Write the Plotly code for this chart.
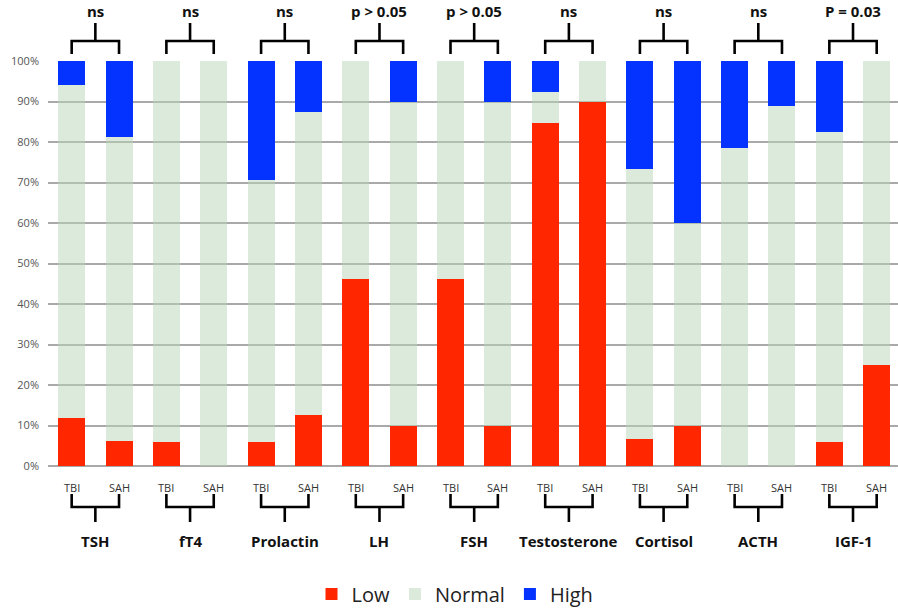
import plotly.graph_objects as go

hormones = ["TSH", "fT4", "Prolactin", "LH", "FSH", "Testosterone", "Cortisol", "ACTH", "IGF-1"]
groups = ["TBI", "SAH"]
p_labels = ["ns", "ns", "ns", "p > 0.05", "p > 0.05", "ns", "ns", "ns", "P = 0.03"]

# percentages, order: TSH TBI, TSH SAH, fT4 TBI, fT4 SAH, ...
low = [11.8, 6.25, 5.9, 0, 5.9, 12.5, 46.2, 10, 46.2, 10, 84.6, 90, 6.7, 10, 0, 0, 5.9, 25]
high = [5.9, 18.75, 0, 0, 29.4, 12.5, 0, 10, 0, 10, 7.7, 0, 26.7, 40, 21.4, 11.1, 17.6, 0]
normal = [round(100 - l - h, 2) for l, h in zip(low, high)]

n = len(low)
xs = list(range(n))

RED = "#ff2600"
GREEN = "rgba(186,214,186,0.5)"
BLUE = "#0433ff"
FONT = "Open Sans"

fig = go.Figure()
fig.add_bar(x=xs, y=low, name="Low", marker=dict(color=RED, line=dict(width=0)), width=0.57)
fig.add_bar(x=xs, y=normal, name="Normal", marker=dict(color=GREEN, line=dict(width=0)), width=0.57)
fig.add_bar(x=xs, y=high, name="High", marker=dict(color=BLUE, line=dict(width=0)), width=0.57)

W, H = 898, 610
H_PLOT = 405.0
Y0 = 466.0  # pixel of 0%


def py(px):
    return (Y0 - px) / H_PLOT


shapes = []
annotations = []
lw = 2.6
for i, (hname, pl) in enumerate(zip(hormones, p_labels)):
    a, b = 2 * i, 2 * i + 1
    c = (a + b) / 2
    # top bracket
    shapes.append(dict(type="path", xref="x", yref="paper",
                       path="M %f,%f L %f,%f L %f,%f L %f,%f" % (a, py(54), a, py(41), b, py(41), b, py(54)),
                       line=dict(color="black", width=lw)))
    shapes.append(dict(type="line", xref="x", yref="paper", x0=c, x1=c, y0=py(41), y1=py(23),
                       line=dict(color="black", width=lw)))
    annotations.append(dict(x=c, y=py(11), xref="x", yref="paper", text="<b>%s</b>" % pl,
                            xanchor="center", yanchor="middle", showarrow=False,
                            font=dict(family=FONT, size=15, color="#111111")))
    # bottom bracket
    shapes.append(dict(type="path", xref="x", yref="paper",
                       path="M %f,%f L %f,%f L %f,%f L %f,%f" % (a, py(494), a, py(507), b, py(507), b, py(494)),
                       line=dict(color="black", width=lw)))
    shapes.append(dict(type="line", xref="x", yref="paper", x0=c, x1=c, y0=py(507), y1=py(522),
                       line=dict(color="black", width=lw)))
    annotations.append(dict(x=c, y=py(541), xref="x", yref="paper", text="<b>%s</b>" % hname,
                            xanchor="center", yanchor="middle", showarrow=False,
                            font=dict(family=FONT, size=15, color="#111111")))
    for j, g in enumerate(groups):
        annotations.append(dict(x=2 * i + j, y=py(487), xref="x", yref="paper", text=g,
                                xanchor="center", yanchor="middle", showarrow=False,
                                font=dict(family=FONT, size=11, color="#333333")))

fig.update_layout(
    width=W, height=H,
    margin=dict(l=48, r=0, t=61, b=H - Y0, autoexpand=False),
    barmode="stack",
    bargap=0.43,
    plot_bgcolor="white",
    paper_bgcolor="white",
    shapes=shapes,
    annotations=annotations,
    showlegend=True,
    legend=dict(orientation="h", xref="container", yref="container", x=455 / W, xanchor="center",
                y=1 - 594 / H, yanchor="middle", traceorder="normal",
                font=dict(family=FONT, size=20, color="#222222"), itemwidth=30,
                bgcolor="rgba(0,0,0,0)"),
    xaxis=dict(range=[-0.5, 17.45], showticklabels=False, showgrid=False, zeroline=False,
               showline=False, fixedrange=True),
    yaxis=dict(range=[0, 100], tickvals=list(range(0, 101, 10)),
               ticktext=["%d%%" % v for v in range(0, 101, 10)],
               showgrid=True, gridcolor="#a9a9a9", gridwidth=1.5,
               zeroline=True, zerolinecolor="#a9a9a9", zerolinewidth=1.5,
               showline=False, ticks="", ticklabelstandoff=8, fixedrange=True,
               tickfont=dict(family=FONT, size=11, color="#555555")),
    font=dict(family=FONT),
)

# remove the browser's default 8px body margin so the figure fills the window
fig.write_html("out.html", config={"displayModeBar": False},
               post_script="document.body.style.margin='0';document.body.style.overflow='hidden';")
